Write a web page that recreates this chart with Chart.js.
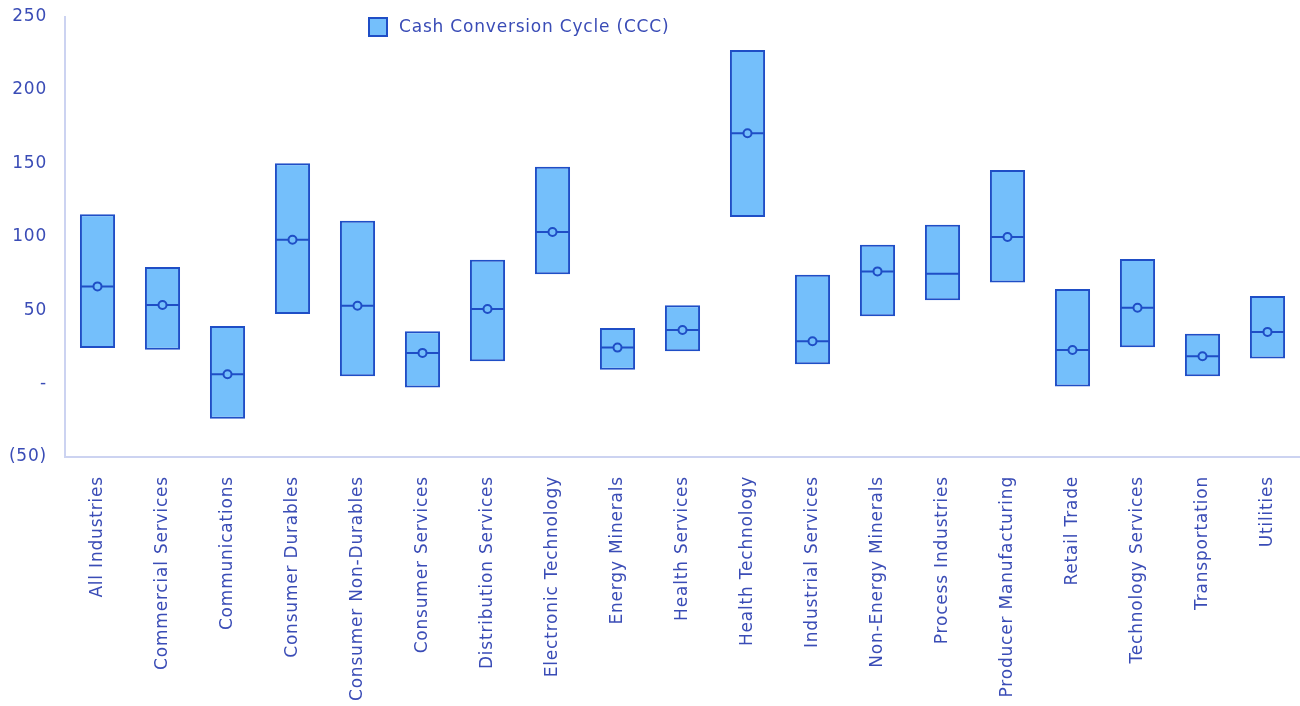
<!DOCTYPE html>
<html>
<head>
<meta charset="utf-8">
<script src="https://cdn.jsdelivr.net/npm/chart.js@4"></script>
<style>
  html, body { margin: 0; padding: 0; background: #ffffff; }
  #wrap { width: 1300px; height: 706px; position: relative; }
</style>
</head>
<body>
<div id="wrap"><canvas id="c"></canvas></div>
<script>
const categories = ["All Industries", "Commercial Services", "Communications", "Consumer Durables", "Consumer Non-Durables", "Consumer Services", "Distribution Services", "Electronic Technology", "Energy Minerals", "Health Services", "Health Technology", "Industrial Services", "Non-Energy Minerals", "Process Industries", "Producer Manufacturing", "Retail Trade", "Technology Services", "Transportation", "Utilities"];
const lows    = [24.3, 23.1, -24, 47.4, 5, -2.7, 15.2, 74.4, 9.5, 22, 113.4, 13.2, 45.8, 56.7, 68.9, -2, 24.7, 5, 17];
const highs   = [115.4, 79.4, 39.2, 150.1, 110.9, 35.6, 84.4, 147.6, 37.9, 53.3, 227.2, 74.1, 94.6, 108.2, 145.4, 64.4, 84.8, 34, 59.7];
const medians = [66.2, 53.5, 6.3, 98, 53, 20.9, 50.8, 103.2, 24.5, 36.5, 170.5, 28.8, 76.4, 74.8, 99.8, 22.9, 51.7, 18.6, 35.2];
const markers = [66.2, 53.5, 6.3, 98, 53, 20.9, 50.8, 103.2, 24.5, 36.5, 170.5, 28.8, 76.4, null, 99.8, 22.9, 51.7, 18.6, 35.2];
const yTickLabels = {"-50": "(50)", "0": "-", "50": "50", "100": "100", "150": "150", "200": "200", "250": "250"};
const seriesName = "Cash Conversion Cycle (CCC)";

const FILL = "#74bffb";
const EDGE = "#1f4ec6";
const TEXT = "#3a4cb6";
const AXIS = "#ccd3f1";
const FONT = "'DejaVu Sans', sans-serif";
const SPACING = "0.8px";

function setSpacing(chart) {
  if ('letterSpacing' in chart.ctx) chart.ctx.letterSpacing = SPACING;
}

const legendPlugin = {
  id: "customLegend",
  beforeUpdate: setSpacing,
  beforeLayout: setSpacing,
  beforeDraw: setSpacing,
  afterDraw(chart) {
    const ctx = chart.ctx;
    const x = chart.chartArea.left + 304, y = 18;
    ctx.save();
    ctx.fillStyle = FILL;
    ctx.strokeStyle = EDGE;
    ctx.lineWidth = 2;
    ctx.fillRect(x, y, 18, 18);
    ctx.strokeRect(x, y, 18, 18);
    ctx.fillStyle = TEXT;
    ctx.font = "17px " + FONT;
    ctx.textBaseline = "middle";
    ctx.textAlign = "left";
    ctx.fillText(seriesName, x + 30, y + 10);
    ctx.restore();
  }
};

const bars = categories.map((c, i) => [lows[i], highs[i]]);

new Chart(document.getElementById("c"), {
  type: "bar",
  data: {
    labels: categories,
    datasets: [
      {
        type: "line",
        label: "Median marker",
        data: markers,
        showLine: false,
        pointStyle: "circle",
        pointRadius: 4,
        pointHoverRadius: 4,
        pointBackgroundColor: FILL,
        pointBorderColor: EDGE,
        pointBorderWidth: 2,
        order: 0
      },
      {
        type: "line",
        label: "Median",
        data: medians,
        showLine: false,
        pointStyle: "line",
        pointRadius: 17.5,
        pointHoverRadius: 17.5,
        pointBorderColor: EDGE,
        pointBorderWidth: 2,
        order: 1
      },
      {
        label: seriesName,
        data: bars,
        backgroundColor: FILL,
        borderColor: EDGE,
        borderWidth: 2,
        borderSkipped: false,
        categoryPercentage: 0.54,
        barPercentage: 1.0,
        order: 2
      }
    ]
  },
  options: {
    responsive: true,
    maintainAspectRatio: false,
    animation: false,
    layout: { autoPadding: false, padding: { top: 16.5, right: 0, left: 0, bottom: 0 } },
    plugins: {
      legend: { display: false },
      tooltip: { enabled: false }
    },
    scales: {
      x: {
        grid: { display: false, drawTicks: false },
        border: { display: true, color: AXIS, width: 2 },
        ticks: {
          color: TEXT,
          font: { family: FONT, size: 17 },
          minRotation: 90,
          maxRotation: 90,
          autoSkip: false,
          padding: 19
        },
        afterFit(scale) {
          scale.height = 249;
          scale.paddingLeft = 0;
          scale.paddingRight = 0;
        }
      },
      y: {
        min: -50,
        max: 250,
        grid: { display: false, drawTicks: false },
        border: { display: true, color: AXIS, width: 2 },
        ticks: {
          stepSize: 50,
          color: TEXT,
          font: { family: FONT, size: 17 },
          padding: 18,
          callback: (v) => yTickLabels[String(v)] ?? String(v)
        },
        afterFit(scale) {
          scale.width = 65;
          scale.paddingTop = 0;
          scale.paddingBottom = 0;
        }
      }
    }
  },
  plugins: [legendPlugin]
});
</script>
</body>
</html>
